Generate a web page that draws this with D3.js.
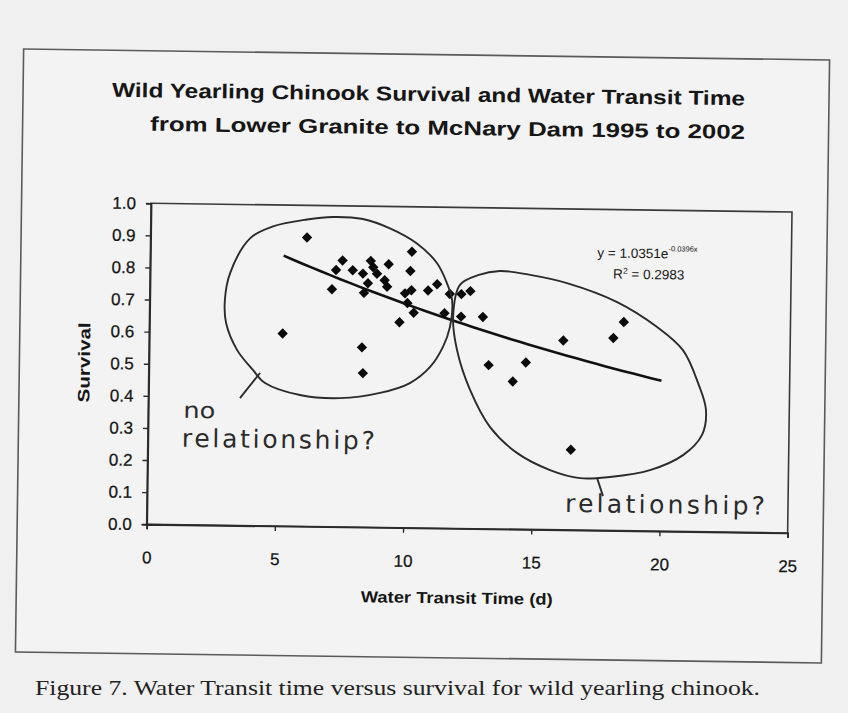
<!DOCTYPE html>
<html><head><meta charset="utf-8">
<script src="https://cdn.jsdelivr.net/npm/d3@7"></script>
<style>html,body{margin:0;padding:0;background:#efefef;} svg{display:block}</style>
</head><body>
<svg id="chart" width="848" height="713"></svg>
<script>
// ---------- data ----------
const titleLines = ["Wild Yearling Chinook Survival and Water Transit Time", "from Lower Granite to McNary Dam 1995 to 2002"];
const xTitle = "Water Transit Time (d)";
const yTitle = "Survival";
const xTicks = [0, 5, 10, 15, 20, 25];
const yTicks = [0, 0.1, 0.2, 0.3, 0.4, 0.5, 0.6, 0.7, 0.8, 0.9, 1.0];
const transitTime = [5.2, 6.1, 7.1, 7.25, 7.5, 7.9, 8.3, 8.6, 8.7, 8.85, 8.5, 8.35, 8.3, 8.35, 9.3, 9.15, 9.25, 9.75, 10.15, 10.2, 9.95, 10.2, 10.85, 11.2, 10.05, 10.3, 11.5, 11.7, 12.15, 12.5, 12.15, 13.0, 13.25, 14.7, 14.2, 16.15, 16.5, 18.1, 18.5];
const survival    = [0.60, 0.90, 0.74, 0.80, 0.83, 0.80, 0.79, 0.83, 0.81, 0.79, 0.76, 0.73, 0.56, 0.48, 0.82, 0.77, 0.75, 0.64, 0.80, 0.86, 0.73, 0.74, 0.74, 0.76, 0.70, 0.67, 0.67, 0.73, 0.73, 0.74, 0.66, 0.66, 0.51, 0.52, 0.46, 0.59, 0.25, 0.60, 0.65];
const trendA = 1.0351, trendB = -0.0396;
const trendRange = [5.2, 20];
const equationText = ["y = 1.0351e", "-0.0396x"];
const r2Text = ["R", "2", " = 0.2983"];
const caption = "Figure 7.  Water Transit time versus survival for wild yearling chinook.";
// hand-drawn annotations (data units)
const leftLoop = [[7.10,0.965],[8.27,0.960],[9.33,0.932],[10.39,0.886],[11.18,0.826],[11.58,0.764],[11.79,0.711],[11.72,0.627],[11.46,0.565],[10.97,0.502],[10.19,0.451],[9.03,0.419],[7.47,0.401],[5.91,0.409],[4.54,0.445],[4.06,0.485],[3.43,0.547],[2.99,0.630],[2.93,0.702],[3.12,0.786],[3.88,0.895],[4.77,0.933],[6.09,0.956]];
const rightLoop = [[11.84,0.659],[12.09,0.759],[12.79,0.790],[13.64,0.804],[14.82,0.793],[16.26,0.769],[18.23,0.712],[19.80,0.636],[20.82,0.565],[21.43,0.463],[21.75,0.380],[21.61,0.302],[20.88,0.238],[19.6,0.190],[18.04,0.167],[16.88,0.162],[15.7,0.186],[14.4,0.238],[13.34,0.317],[12.54,0.432],[12.01,0.556]];
const leftTail = [[4.34,0.476],[3.57,0.397]];
const rightTail = [[17.54,0.163],[17.78,0.107]];
const noteLeft = ["no", "relationship?"];
const noteRight = "relationship?";

// ---------- drawing ----------
const svg = d3.select("#chart");
svg.append("rect").attr("width", 848).attr("height", 713).attr("fill", "#f0f0f0");
const g = svg.append("g").attr("transform", "rotate(0.78,424,356)");

g.append("rect").attr("x", 19.5).attr("y", 54.5).attr("width", 806).attr("height", 603)
  .attr("fill", "#f3f3f3").attr("stroke", "#5a5a5a").attr("stroke-width", 1.6);

const m = {left: 149, right: 790, top: 207, bottom: 528};
const x = d3.scaleLinear().domain([0, 25]).range([m.left, m.right]);
const y = d3.scaleLinear().domain([0, 1]).range([m.bottom, m.top]);
const ink = "#161616";
const sans = "'Liberation Sans', Arial, sans-serif";

// title
const tPos = [[425, 101, 633], [444.5, 134.5, 595]];
titleLines.forEach((t, i) => {
  g.append("text").attr("x", tPos[i][0]).attr("y", tPos[i][1]).attr("text-anchor", "middle")
    .attr("font-family", sans).attr("font-weight", "bold").attr("font-size", 20)
    .attr("fill", ink).attr("textLength", tPos[i][2]).attr("lengthAdjust", "spacingAndGlyphs").text(t);
});

// plot border
g.append("rect").attr("x", m.left).attr("y", m.top).attr("width", m.right - m.left).attr("height", m.bottom - m.top)
  .attr("fill", "none").attr("stroke", "#3a3a3a").attr("stroke-width", 1.6);

// axes
const yAxis = g.append("g").attr("transform", `translate(${m.left},0)`)
  .call(d3.axisLeft(y).tickValues(yTicks).tickSize(5).tickPadding(10).tickFormat(d3.format(".1f")));
const xAxis = g.append("g").attr("transform", `translate(0,${m.bottom})`)
  .call(d3.axisBottom(x).tickValues(xTicks).tickSize(5).tickPadding(22).tickFormat(d3.format("d")));
[yAxis, xAxis].forEach(a => {
  a.select(".domain").attr("stroke", "#2a2a2a").attr("stroke-width", 1.8);
  a.selectAll(".tick line").attr("stroke", "#2a2a2a").attr("stroke-width", 1.4);
  a.selectAll(".tick text").attr("font-family", sans).attr("font-size", 17).attr("fill", ink)
    .attr("stroke", ink).attr("stroke-width", 0.25);
});

// axis titles
g.append("text").attr("x", 460).attr("y", 603).attr("text-anchor", "middle")
  .attr("font-family", sans).attr("font-weight", "bold").attr("font-size", 16).attr("fill", ink)
  .attr("textLength", 192).attr("lengthAdjust", "spacingAndGlyphs").text(xTitle);
g.append("text").attr("transform", "translate(90,367) rotate(-90)").attr("text-anchor", "middle")
  .attr("font-family", sans).attr("font-weight", "bold").attr("font-size", 16.5).attr("fill", ink)
  .attr("textLength", 80).attr("lengthAdjust", "spacingAndGlyphs").text(yTitle);

// trendline
const trendPts = d3.range(trendRange[0], trendRange[1] + 1e-9, (trendRange[1] - trendRange[0]) / 40)
  .map(t => [t, trendA * Math.exp(trendB * t)]);
g.append("path").datum(trendPts)
  .attr("d", d3.line().x(d => x(d[0])).y(d => y(d[1])))
  .attr("fill", "none").attr("stroke", "#111").attr("stroke-width", 2.6);

// points
const pts = transitTime.map((t, i) => [t, survival[i]]);
g.append("g").selectAll("path").data(pts).join("path")
  .attr("d", d3.symbol(d3.symbolSquare, 54)())
  .attr("transform", d => `translate(${x(d[0])},${y(d[1])}) rotate(45)`)
  .attr("fill", "#0a0a0a");

// equation
const eq = g.append("text").attr("x", 596).attr("y", 255).attr("font-family", sans).attr("font-size", 13.5).attr("fill", ink);
eq.append("tspan").text(equationText[0]);
eq.append("tspan").attr("dy", -7).attr("font-size", 7.5).text(equationText[1]);
const r2 = g.append("text").attr("x", 612).attr("y", 276).attr("font-family", sans).attr("font-size", 13.5).attr("fill", ink);
r2.append("tspan").text(r2Text[0]);
r2.append("tspan").attr("dy", -5).attr("font-size", 8.5).text(r2Text[1]);
r2.append("tspan").attr("dy", 5).text(r2Text[2]);

// hand-drawn annotations
const pen = "#2b2b2b";
const loopLine = d3.line().x(d => x(d[0])).y(d => y(d[1])).curve(d3.curveCatmullRomClosed);
const openLine = d3.line().x(d => x(d[0])).y(d => y(d[1]));
[leftLoop, rightLoop].forEach(L => {
  g.append("path").datum(L).attr("d", loopLine).attr("fill", "none").attr("stroke", pen).attr("stroke-width", 1.9);
});
[leftTail, rightTail].forEach(L => {
  g.append("path").datum(L).attr("d", openLine).attr("fill", "none").attr("stroke", pen).attr("stroke-width", 1.9);
});
const hand = "'DejaVu Sans', sans-serif";
g.append("text").attr("x", 184).attr("y", 421).attr("font-family", hand).attr("font-size", 22)
  .attr("fill", pen).attr("textLength", 32).attr("lengthAdjust", "spacingAndGlyphs").text(noteLeft[0]);
g.append("text").attr("x", 183).attr("y", 450).attr("font-family", hand).attr("font-size", 25)
  .attr("fill", pen).attr("textLength", 193).attr("lengthAdjust", "spacing").text(noteLeft[1]);
g.append("text").attr("x", 567).attr("y", 510).attr("font-family", hand).attr("font-size", 25)
  .attr("fill", pen).attr("textLength", 200).attr("lengthAdjust", "spacing").text(noteRight);

// caption (outside frame)
svg.append("text").attr("x", 35).attr("y", 695).attr("font-family", "'Liberation Serif', 'Times New Roman', serif")
  .attr("font-size", 21).attr("fill", "#222").attr("textLength", 725).attr("lengthAdjust", "spacingAndGlyphs").text(caption);
</script>
</body></html>
